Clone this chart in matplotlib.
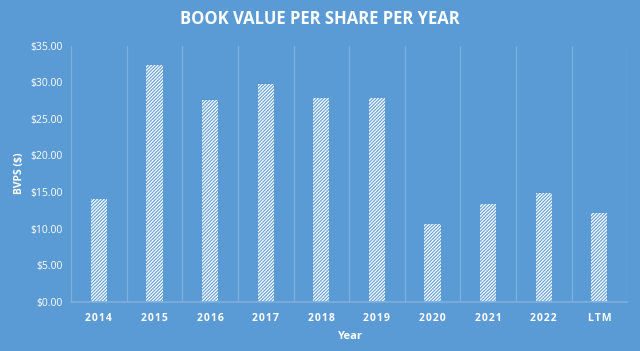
import matplotlib
matplotlib.use("Agg")
import matplotlib.pyplot as plt
import numpy as np

BG = "#5B9BD5"
GRID = "#7DAFDF"

years = ["2014", "2015", "2016", "2017", "2018", "2019", "2020", "2021", "2022", "LTM"]
bvps = [14.0, 32.4, 27.6, 29.8, 27.9, 27.8, 10.6, 13.3, 14.9, 12.2]
yticks = [0, 5, 10, 15, 20, 25, 30, 35]

plt.rcParams["font.family"] = ["Open Sans", "DejaVu Sans"]
plt.rcParams["hatch.linewidth"] = 0.9
plt.rcParams["hatch.color"] = "white"

fig = plt.figure(figsize=(6.4, 3.51), dpi=100, facecolor=BG)
ax = fig.add_axes([0.111, 0.14, 0.869, 0.73], facecolor=BG)

x = np.arange(len(years))
ax.bar(x, bvps, width=0.29, color=BG, edgecolor="white", hatch="//////////", linewidth=0)

ax.set_xlim(-0.5, len(years) - 0.5)
ax.set_ylim(0, 35)
ax.set_yticks(yticks)
ax.set_yticklabels([f"${v:.2f}" for v in yticks], color="white", fontsize=7.5)
ax.set_xticks(x)
# spaced-out labels like the original
ax.set_xticklabels(["\u200a".join(y) for y in years], color="white", fontsize=7.5,
                   fontweight="bold")
ax.set_xticks(np.arange(len(years) + 1) - 0.5, minor=True)
ax.grid(which="minor", axis="x", color=GRID, lw=0.9)
ax.tick_params(which="both", length=0)
ax.tick_params(axis="x", pad=8)
ax.tick_params(axis="y", pad=6)
for s in ["top", "right", "left"]:
    ax.spines[s].set_visible(False)
ax.spines["bottom"].set_color(GRID)
ax.spines["bottom"].set_linewidth(1.2)

ax.set_ylabel("BVPS ($)", color="white", fontsize=7.5, fontweight="bold", labelpad=4)
ax.set_xlabel("Year", color="white", fontsize=8, fontweight="bold", labelpad=5)
fig.text(0.5, 0.945, "BOOK VALUE PER SHARE PER YEAR", ha="center", va="center",
         color="white", fontsize=12, fontweight="bold")

fig.savefig("out.png", dpi=100, facecolor=BG)
